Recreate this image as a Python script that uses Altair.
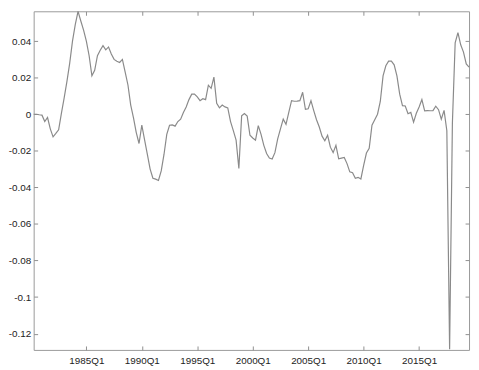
import altair as alt
import pandas as pd

start_quarter = "1980Q2"
values = [
    0, 0, -0.0003, -0.0005, -0.004, -0.0018, -0.008, -0.0124, -0.0105, -0.0085,
    0.0005, 0.009, 0.018, 0.028, 0.040, 0.049, 0.0563, 0.051, 0.046, 0.040,
    0.032, 0.021, 0.024, 0.032, 0.035, 0.0375, 0.0352, 0.0368, 0.033, 0.030,
    0.029, 0.0283, 0.030, 0.023, 0.016, 0.005, -0.002, -0.010, -0.016, -0.006,
    -0.014, -0.022, -0.030, -0.035, -0.0355, -0.0362, -0.031, -0.022, -0.011, -0.006,
    -0.0058, -0.0065, -0.004, -0.0027, 0.001, 0.004, 0.008, 0.011, 0.011, 0.0095,
    0.0074, 0.0085, 0.008, 0.0159, 0.0142, 0.0203, 0.006, 0.0035, 0.005, 0.004,
    0.0035, -0.004, -0.009, -0.0142, -0.0297, -0.0009, 0.0004, -0.001, -0.0115, -0.013,
    -0.0142, -0.0062, -0.011, -0.017, -0.0215, -0.024, -0.0245, -0.021, -0.0135, -0.008,
    -0.0027, -0.0055, 0.001, 0.0074, 0.0071, 0.0072, 0.0074, 0.012, 0.0027, 0.003,
    0.0074, 0.002, -0.003, -0.007, -0.012, -0.0145, -0.0115, -0.018, -0.021, -0.017,
    -0.0244, -0.024, -0.0236, -0.027, -0.0315, -0.032, -0.035, -0.0345, -0.0354, -0.028,
    -0.0212, -0.0186, -0.006, -0.003, 0.0, 0.007, 0.021, 0.0265, 0.029, 0.029,
    0.027, 0.021, 0.011, 0.0047, 0.0045, 0.0003, 0.001, -0.0043, 0.0005, 0.004,
    0.008, 0.0018, 0.002, 0.0019, 0.002, 0.0044, 0.0025, -0.0027, 0.0021, -0.009,
    -0.1285, -0.005, 0.039, 0.0446, 0.038, 0.034, 0.0275, 0.0258,
]
x_tick_years = [1985, 1990, 1995, 2000, 2005, 2010, 2015]
y_ticks = [0.04, 0.02, 0, -0.02, -0.04, -0.06, -0.08, -0.1, -0.12]
y_domain = [-0.1289, 0.0563]

periods = pd.period_range(start_quarter, periods=len(values), freq="Q")
df = pd.DataFrame({
    "t": [p.year + (p.quarter - 1) / 4 for p in periods],
    "v": values,
    "quarter": [str(p) for p in periods],
})
x_domain = [float(df["t"].min()), float(df["t"].max())]

xscale = alt.Scale(domain=x_domain, nice=False, zero=False)
yscale = alt.Scale(domain=y_domain, nice=False, zero=False)

common = dict(offset=-4, tickSize=4, domain=False, grid=False, title=None,
              labelOverlap=False, labelFlush=False, tickColor="#8f8f8f")

main = alt.Chart(df).mark_line(color="#8a8a8a", strokeWidth=1.2).encode(
    x=alt.X("t:Q", scale=xscale,
            axis=alt.Axis(orient="bottom", values=x_tick_years,
                          labelExpr="datum.value + 'Q1'", labelPadding=6, **common)),
    y=alt.Y("v:Q", scale=yscale,
            axis=alt.Axis(orient="left", values=y_ticks,
                          labelExpr="'' + datum.value", labelPadding=3, **common)),
)

frame = alt.Chart(df).mark_line(opacity=0).encode(
    x=alt.X("t:Q", scale=xscale,
            axis=alt.Axis(orient="top", values=x_tick_years, labels=False, **common)),
    y=alt.Y("v:Q", scale=yscale,
            axis=alt.Axis(orient="right", values=y_ticks, labels=False, **common)),
)

chart = alt.layer(main, frame).resolve_axis(x="independent", y="independent").properties(
    width=441, height=343,
    autosize=alt.AutoSizeParams(type="none"),
    padding={"left": 26, "top": 1, "right": 2, "bottom": 18},
).configure_view(stroke="#999999", strokeWidth=1).configure_axis(
    labelFont="Liberation Sans", labelFontSize=10, labelColor="#222222"
)

chart.save("out.html", embed_options={"renderer": "svg", "actions": False})
